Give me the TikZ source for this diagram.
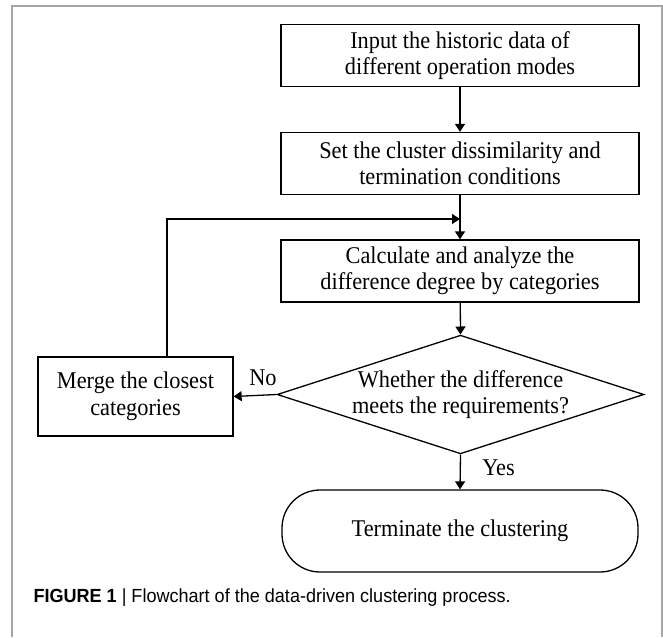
\documentclass[tikz,border=0pt]{standalone}
\usepackage{fontspec}
\setmainfont{Liberation Serif}[FakeStretch=0.93]
\newfontfamily\capfont{Liberation Sans}[FakeStretch=0.95]
\usetikzlibrary{shapes.geometric,arrows.meta}
\begin{document}
\begin{tikzpicture}[x=1pt,y=-1pt,
  every node/.style={font=\fontsize{24}{26.5}\selectfont},
  flowbox/.style={draw,line width=1.3pt,align=center,inner sep=0pt,minimum width=358,minimum height=62},
  decide/.style={draw,diamond,line width=1.3pt,align=center,inner sep=0pt,aspect=3.09,minimum width=355,minimum height=115},
  termbox/.style={draw,line width=1.3pt,rounded corners=38,align=center,inner sep=0pt,minimum width=356,minimum height=82},
  arr/.style={line width=1.3pt,-{Triangle[length=8pt,width=10pt]}},
  frameln/.style={draw=black!35,line width=1.6pt}]
\useasboundingbox (0,0) rectangle (663,637);
\draw[frameln] (12,637) -- (12,6) -- (662,6) -- (662,637);
\node[flowbox] (b1) at (460,55.5) {Input the historic data of\\different operation modes};
\node[flowbox] (b2) at (460,163.5) {Set the cluster dissimilarity and\\termination conditions};
\node[flowbox] (b3) at (460,271) {Calculate and analyze the\\difference degree by categories};
\node[decide] (dia) at (460.5,394.5) {Whether the difference\\meets the requirements?};
\node[flowbox,minimum width=195,minimum height=79] (merge) at (135.5,396.5) {Merge the closest\\categories};
\node[termbox] (term) at (460,531) {Terminate the clustering};
\coordinate (loopj) at (460,219);
\draw[arr] (b1) -- (b2);
\draw[arr] (b2) -- (b3);
\draw[arr] (b3) -- (dia.north);
\draw[arr] (dia.west) -- (merge.east);
\draw[arr] (dia.south) -- (term.north);
\draw[arr] ([xshift=31.5]merge.north) |- (loopj);
\node[anchor=base] (no) at (263,385.5) {No};
\node[anchor=base] (yes) at (498.5,475) {Yes};
\node[anchor=base west,font=\capfont\fontsize{19}{21}\selectfont] (cap) at (30,602) {\textbf{FIGURE 1} | Flowchart of the data-driven clustering process.};
\end{tikzpicture}
\end{document}
